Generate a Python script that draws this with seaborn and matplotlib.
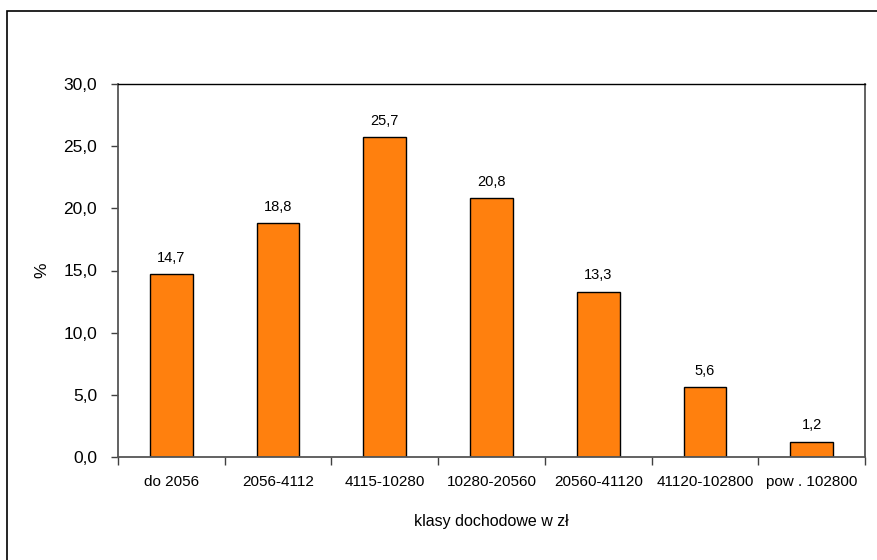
import matplotlib
matplotlib.use("Agg")
import matplotlib.pyplot as plt
import seaborn as sns
import pandas as pd
import numpy as np
from matplotlib.patches import Rectangle

categories = ["do 2056", "2056-4112", "4115-10280", "10280-20560",
              "20560-41120", "41120-102800", "pow . 102800"]
values = [14.7, 18.8, 25.7, 20.8, 13.3, 5.6, 1.2]
y_ticks = [0, 5, 10, 15, 20, 25, 30]

sns.set_theme(style="white")
plt.rcParams['font.family'] = ['Liberation Sans', 'DejaVu Sans']
plt.rcParams['text.color'] = 'black'
plt.rcParams['axes.labelcolor'] = 'black'
plt.rcParams['xtick.color'] = 'black'
plt.rcParams['ytick.color'] = 'black'

df = pd.DataFrame({"klasa": categories, "udzial": values})

fig = plt.figure(figsize=(8.78, 5.6), dpi=100)
ax = fig.add_axes([118 / 878, 1 - 457 / 560, (865 - 118) / 878, (457 - 84) / 560])

sns.barplot(data=df, x="klasa", y="udzial", color="#FF800E", saturation=1,
            width=0.40, edgecolor="black", linewidth=1.0, ax=ax)

# value labels above bars
for i, v in enumerate(values):
    ax.annotate(f"{v:.1f}".replace(".", ","), xy=(i, v), xytext=(0, 7),
                textcoords="offset points", ha="center", va="bottom",
                fontsize=10.5, color="black")

ax.set_xlim(-0.5, len(categories) - 0.5)
ax.set_ylim(0, 30)
ax.set_yticks(y_ticks)
ax.set_yticklabels([f"{t:.1f}".replace(".", ",") for t in y_ticks], fontsize=12.5)
ax.tick_params(axis="y", which="major", direction="out", length=5, width=1,
               color="#404040", labelcolor="black", left=True, pad=10)

# category labels centred, tick marks on boundaries
ax.set_xticks(range(len(categories)))
ax.set_xticklabels(categories, fontsize=11)
ax.tick_params(axis="x", which="major", length=0, pad=13, labelcolor="black")
ax.set_xticks(np.arange(-0.5, len(categories) + 0.5, 1), minor=True)
ax.tick_params(axis="x", which="minor", direction="out", length=6, width=1,
               color="#404040", bottom=True)

ax.set_xlabel("klasy dochodowe w zł", fontsize=11.5, labelpad=18, color="black")
ax.set_ylabel("%", fontsize=12.5, labelpad=10, color="black")

for side in ["left", "bottom", "right"]:
    ax.spines[side].set_visible(True)
    ax.spines[side].set_color("#555555")
    ax.spines[side].set_linewidth(1.3)
ax.spines["top"].set_visible(True)
ax.spines["top"].set_color("black")
ax.spines["top"].set_linewidth(1.0)

# outer chart frame
fig.patches.append(Rectangle((7 / 878, -0.05), 1.1, 1.05 - 11 / 560,
                             transform=fig.transFigure, fill=False,
                             edgecolor="black", linewidth=1.2))

fig.savefig("out.png", dpi=100)
